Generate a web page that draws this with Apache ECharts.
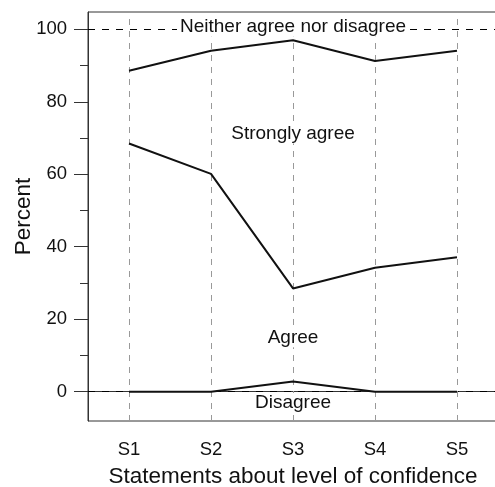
<!DOCTYPE html>
<html>
<head>
<meta charset="utf-8">
<title>Level of confidence</title>
<script src="https://cdn.jsdelivr.net/npm/echarts@6/dist/echarts.min.js"></script>
<style>
  html, body { margin: 0; padding: 0; background: #fff; }
  #main { width: 495px; height: 487px; }
</style>
</head>
<body>
<div id="main"></div>
<script type="text/javascript">
    // statements on the x axis
    var categories = ["S1", "S2", "S3", "S4", "S5"];

    // cumulative percent boundaries between the answer bands
    var disagreeTop = [0, 0, 2.8, 0, 0];
    var agreeTop = [68.5, 60.1, 28.5, 34.2, 37.1];
    var stronglyTop = [88.6, 94.1, 97.0, 91.3, 94.1];

    // reference lines and y ticks
    var refLines = [0, 100];
    var yMajorTicks = [0, 20, 40, 60, 80, 100];
    var yMinorTicks = [10, 30, 50, 70, 90];

    // band names, written at S3
    var bandNames = ["Neither agree nor disagree", "Strongly agree", "Agree", "Disagree"];
    var bandLabelY = [100.6, 71.1, 14.9, -3.0];

    var font = "Liberation Sans, Arial, sans-serif";
    var yMin = -8.1, yMax = 104.8;

    var bandPoints = [];
    for (var i = 0; i < bandNames.length; ++i) {
        bandPoints.push({ name: bandNames[i], coord: ["S3", bandLabelY[i]] });
    }

    var hLines = [];
    for (var i = 0; i < refLines.length; ++i) {
        hLines.push({ yAxis: refLines[i] });
    }

    var vLines = [];
    for (var i = 0; i < categories.length; ++i) {
        vLines.push({ xAxis: categories[i] });
    }

    function dataLine(name, values) {
        return {
            name: name,
            type: "line",
            data: values,
            z: 5,
            symbol: "none",
            lineStyle: { color: "#111", width: 2 }
        };
    }

    var myChart = echarts.init(document.getElementById("main"));
    myChart.setOption({
        animation: false,
        textStyle: { fontFamily: font },
        grid: {
            left: 88, top: 12, right: -3, bottom: 66,
            outerBoundsMode: "none",
            containLabel: false,
            show: true, borderColor: "#333", borderWidth: 1
        },
        xAxis: {
            type: "category",
            data: categories,
            boundaryGap: true,
            axisLine: { lineStyle: { color: "#333", width: 1 } },
            axisTick: { alignWithLabel: true, length: 13, lineStyle: { color: "#333" } },
            axisLabel: { margin: 19, fontSize: 18.5, color: "#111", fontFamily: font },
            splitLine: { show: false },
            name: "Statements about level of confidence",
            nameLocation: "middle",
            nameGap: 44,
            nameMoveOverlap: false,
            nameTextStyle: { fontSize: 22.5, color: "#111", fontFamily: font }
        },
        yAxis: [{
            type: "value",
            min: yMin, max: yMax,
            axisLine: { show: true, lineStyle: { color: "#333", width: 1 } },
            axisTick: { show: true, length: 14, lineStyle: { color: "#333" }, customValues: yMajorTicks },
            axisLabel: { customValues: yMajorTicks, margin: 21, fontSize: 18.5, color: "#111", fontFamily: font },
            splitLine: { show: false },
            name: "Percent",
            nameLocation: "middle",
            nameGap: 53,
            nameMoveOverlap: false,
            nameTextStyle: { fontSize: 22.5, color: "#111", fontFamily: font }
        }, {
            type: "value",
            position: "left",
            min: yMin, max: yMax,
            axisLine: { show: false },
            axisTick: { show: true, length: 8, lineStyle: { color: "#333" }, customValues: yMinorTicks },
            axisLabel: { show: false },
            splitLine: { show: false }
        }],
        series: [{
            // dashed lines at 0 and 100
            type: "line",
            data: [],
            z: 1,
            markLine: {
                silent: true,
                symbol: ["none", "none"],
                label: { show: false },
                lineStyle: { type: [7, 7], color: "#000", width: 1 },
                data: hLines
            }
        }, {
            // band names with white box, hiding the dashes behind
            type: "line",
            data: [],
            z: 2,
            markPoint: {
                silent: true,
                symbol: "circle",
                symbolSize: 0,
                label: {
                    show: true,
                    position: "inside",
                    formatter: "{b}",
                    fontSize: 19,
                    color: "#111",
                    fontFamily: font,
                    backgroundColor: "#fff",
                    padding: [0, 3]
                },
                data: bandPoints
            }
        }, {
            // grey dashed verticals at each statement
            type: "line",
            data: [],
            z: 3,
            markLine: {
                silent: true,
                symbol: ["none", "none"],
                label: { show: false },
                lineStyle: { type: [6, 6], color: "#999", width: 1 },
                data: vLines
            }
        },
            dataLine("Disagree", disagreeTop),
            dataLine("Agree", agreeTop),
            dataLine("Strongly agree", stronglyTop)
        ]
    });
</script>
</body>
</html>
